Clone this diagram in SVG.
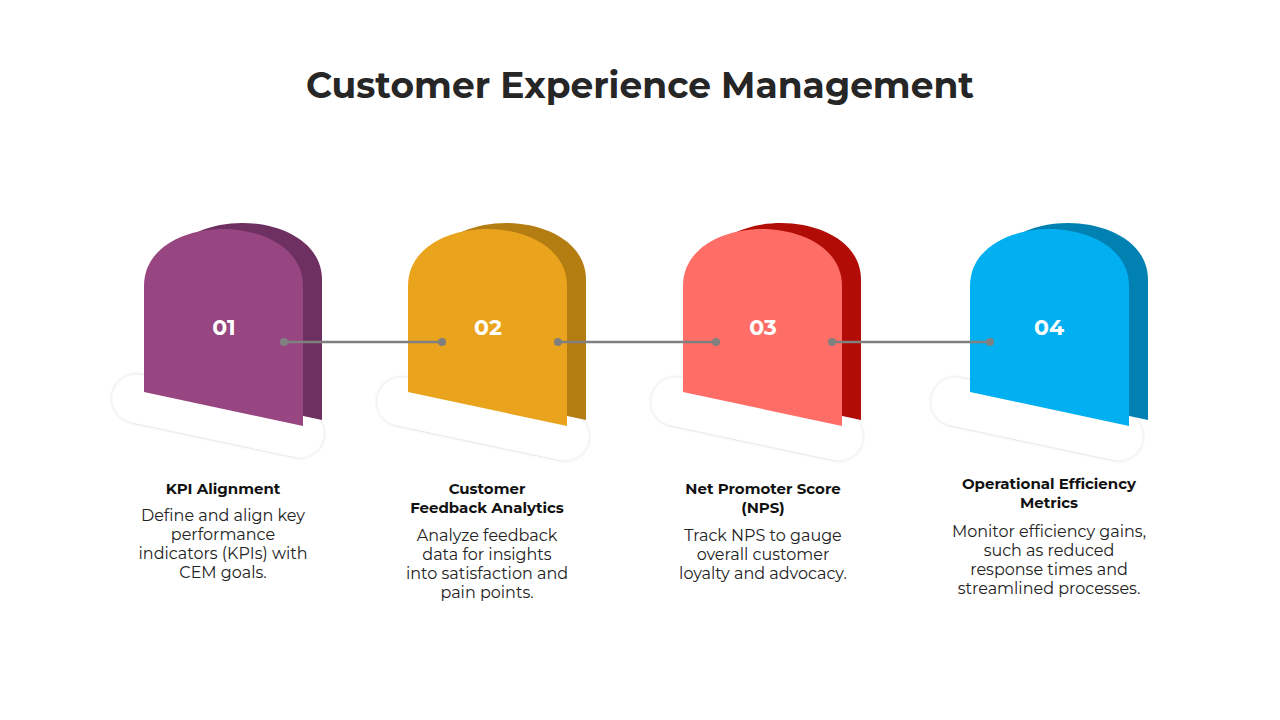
<svg xmlns="http://www.w3.org/2000/svg" width="1280" height="720" viewBox="0 0 1280 720">
<defs>
<path id="card" d="M144,392 L144,286 C144,248 184,229 223,229 C262,229 303,248 303,286 L303,426 Z"/>
<filter id="sh" x="-20%" y="-30%" width="140%" height="160%"><feDropShadow dx="0" dy="0" stdDeviation="1.5" flood-color="#000" flood-opacity="0.25"/></filter>
</defs>
<style>
.t{font-family:"Montserrat","Open Sans","Liberation Sans",sans-serif;text-anchor:middle}
.h{font-weight:700;font-size:15px;fill:#111}
.d{font-size:16px;fill:#222}
.n{font-weight:700;font-size:22px;fill:#fff}
.base{fill:#fff;filter:url(#sh)}
.ln{stroke:#808080;stroke-width:2.5}
.dot{fill:#808080}
</style>
<rect width="1280" height="720" fill="#fff"/>
<text class="t" x="640" y="98" font-size="36" font-weight="700" fill="#262626">Customer Experience Management</text>
<g id="node1">
<rect class="base" x="110.5" y="392" width="215" height="48" rx="24" transform="rotate(12 218 416)"/>
<use href="#card" transform="translate(19,-6)" fill="#6d3060"/>
<use href="#card" fill="#974681"/>
<text class="t n" x="224" y="335">01</text>
<text class="t h" x="223" y="494">KPI Alignment</text>
<text class="t d" x="223" y="521">Define and align key</text>
<text class="t d" x="223" y="540">performance</text>
<text class="t d" x="223" y="559">indicators (KPIs) with</text>
<text class="t d" x="223" y="578">CEM goals.</text>
</g>
<g id="node2">
<rect class="base" x="375.5" y="395" width="215" height="48" rx="24" transform="rotate(12 483 419)"/>
<g transform="translate(264,0)">
<use href="#card" transform="translate(19,-6)" fill="#b47d12"/>
<use href="#card" fill="#eaa31d"/>
</g>
<text class="t n" x="488" y="335">02</text>
<text class="t h" x="487" y="494">Customer</text>
<text class="t h" x="487" y="513">Feedback Analytics</text>
<text class="t d" x="487" y="541">Analyze feedback</text>
<text class="t d" x="487" y="560">data for insights</text>
<text class="t d" x="487" y="579">into satisfaction and</text>
<text class="t d" x="487" y="598">pain points.</text>
</g>
<g id="node3">
<rect class="base" x="649.5" y="395" width="215" height="48" rx="24" transform="rotate(12 757 419)"/>
<g transform="translate(539,0)">
<use href="#card" transform="translate(19,-6)" fill="#b10c05"/>
<use href="#card" fill="#fe6d66"/>
</g>
<text class="t n" x="763" y="335">03</text>
<text class="t h" x="763" y="494">Net Promoter Score</text>
<text class="t h" x="763" y="513">(NPS)</text>
<text class="t d" x="763" y="541">Track NPS to gauge</text>
<text class="t d" x="763" y="560">overall customer</text>
<text class="t d" x="763" y="579">loyalty and advocacy.</text>
</g>
<g id="node4">
<rect class="base" x="929.5" y="395" width="215" height="48" rx="24" transform="rotate(12 1037 419)"/>
<g transform="translate(826,0)">
<use href="#card" transform="translate(19,-6)" fill="#0081b1"/>
<use href="#card" fill="#02aff0"/>
</g>
<text class="t n" x="1049" y="335">04</text>
<text class="t h" x="1049" y="489">Operational Efficiency</text>
<text class="t h" x="1049" y="508">Metrics</text>
<text class="t d" x="1049" y="537">Monitor efficiency gains,</text>
<text class="t d" x="1049" y="556">such as reduced</text>
<text class="t d" x="1049" y="575">response times and</text>
<text class="t d" x="1049" y="594">streamlined processes.</text>
</g>
<g id="connectors">
<line class="ln" x1="284" y1="342" x2="442" y2="342"/>
<line class="ln" x1="558" y1="342" x2="716" y2="342"/>
<line class="ln" x1="832" y1="342" x2="990" y2="342"/>
<circle class="dot" cx="284" cy="342" r="4"/><circle class="dot" cx="442" cy="342" r="4"/>
<circle class="dot" cx="558" cy="342" r="4"/><circle class="dot" cx="716" cy="342" r="4"/>
<circle class="dot" cx="832" cy="342" r="4"/><circle class="dot" cx="990" cy="342" r="4"/>
</g>
</svg>
